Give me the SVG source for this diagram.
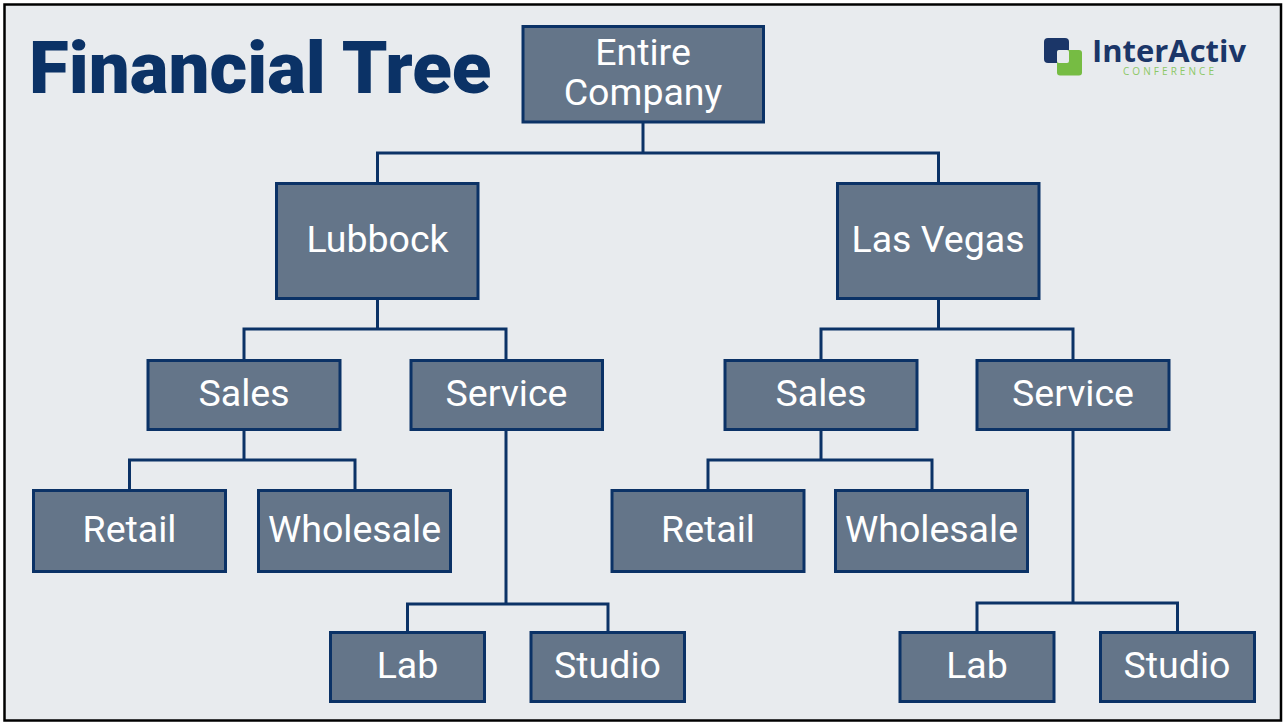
<svg xmlns="http://www.w3.org/2000/svg" width="1284" height="722" viewBox="0 0 1284 722">
<style>
.n{fill:#647589;stroke:#0b3266;stroke-width:3}
.t{font-family:Roboto,"Liberation Sans",sans-serif;font-size:37.500px;fill:#fff;text-anchor:middle}
#connectors path{fill:none;stroke:#0b3266;stroke-width:3}
</style>
<rect x="4.500" y="4.500" width="1276.500" height="716" fill="#e8ebee" stroke="#000" stroke-width="2.500"/>
<text x="29" y="93" font-family="Roboto,'Liberation Sans',sans-serif" font-size="72.700" font-weight="900" fill="#0b3266">Financial Tree</text>
<g id="logo">
<rect x="1044" y="38" width="25" height="25" rx="4" fill="#1b3668"/>
<rect x="1057" y="50" width="25" height="25.500" rx="3" fill="#76bc43"/>
<rect x="1057" y="50" width="12" height="13" rx="2" fill="#e8ebee"/>
<text x="1092" y="62" font-family="'Open Sans',sans-serif" font-size="30" font-weight="700" fill="#1b3668" textLength="154" lengthAdjust="spacingAndGlyphs">InterActiv</text>
<text x="1123" y="75" font-family="'Open Sans',sans-serif" font-size="10" fill="#8cc866" textLength="91">CONFERENCE</text>
</g>
<g id="connectors">
<path d="M643 122V153M377.500 183V153H938.500V183"/>
<path d="M377.500 298V329M244 360V329H506V360"/>
<path d="M938.500 298V329M821 360V329H1073V360"/>
<path d="M244 429V460M129.500 490V460H355V490"/>
<path d="M821 429V460M708 490V460H932V490"/>
<path d="M506 429V604M407.500 632V604H608V632"/>
<path d="M1073 429V603M977 632V603H1177.500V632"/>
</g>
<g id="entire"><rect class="n" x="523" y="26.500" width="240.500" height="95.500"/><text class="t" x="643" y="65">Entire</text><text class="t" x="643" y="105">Company</text></g>
<g id="lubbock"><rect class="n" x="276.500" y="183.500" width="201.500" height="115"/><text class="t" x="377.500" y="252">Lubbock</text></g>
<g id="lasvegas"><rect class="n" x="837.500" y="183.500" width="201.500" height="115"/><text class="t" x="938" y="252">Las Vegas</text></g>
<g id="sales1"><rect class="n" x="148" y="360.500" width="192" height="69"/><text class="t" x="244" y="406">Sales</text></g>
<g id="service1"><rect class="n" x="411" y="360.500" width="191.500" height="69"/><text class="t" x="506.500" y="406">Service</text></g>
<g id="sales2"><rect class="n" x="725" y="360.500" width="192" height="69"/><text class="t" x="821" y="406">Sales</text></g>
<g id="service2"><rect class="n" x="977" y="360.500" width="192" height="69"/><text class="t" x="1073" y="406">Service</text></g>
<g id="retail1"><rect class="n" x="33.500" y="490.500" width="192" height="81"/><text class="t" x="129.500" y="542">Retail</text></g>
<g id="wholesale1"><rect class="n" x="258.500" y="490.500" width="192" height="81"/><text class="t" x="354.500" y="542">Wholesale</text></g>
<g id="retail2"><rect class="n" x="612" y="490.500" width="192" height="81"/><text class="t" x="708" y="542">Retail</text></g>
<g id="wholesale2"><rect class="n" x="835.500" y="490.500" width="192" height="81"/><text class="t" x="931.500" y="542">Wholesale</text></g>
<g id="lab1"><rect class="n" x="330.500" y="632.500" width="154" height="69"/><text class="t" x="407.500" y="678">Lab</text></g>
<g id="studio1"><rect class="n" x="531" y="632.500" width="153.500" height="69"/><text class="t" x="607.500" y="678">Studio</text></g>
<g id="lab2"><rect class="n" x="900" y="632.500" width="154" height="69"/><text class="t" x="977" y="678">Lab</text></g>
<g id="studio2"><rect class="n" x="1100.500" y="632.500" width="154" height="69"/><text class="t" x="1177" y="678">Studio</text></g>
</svg>
